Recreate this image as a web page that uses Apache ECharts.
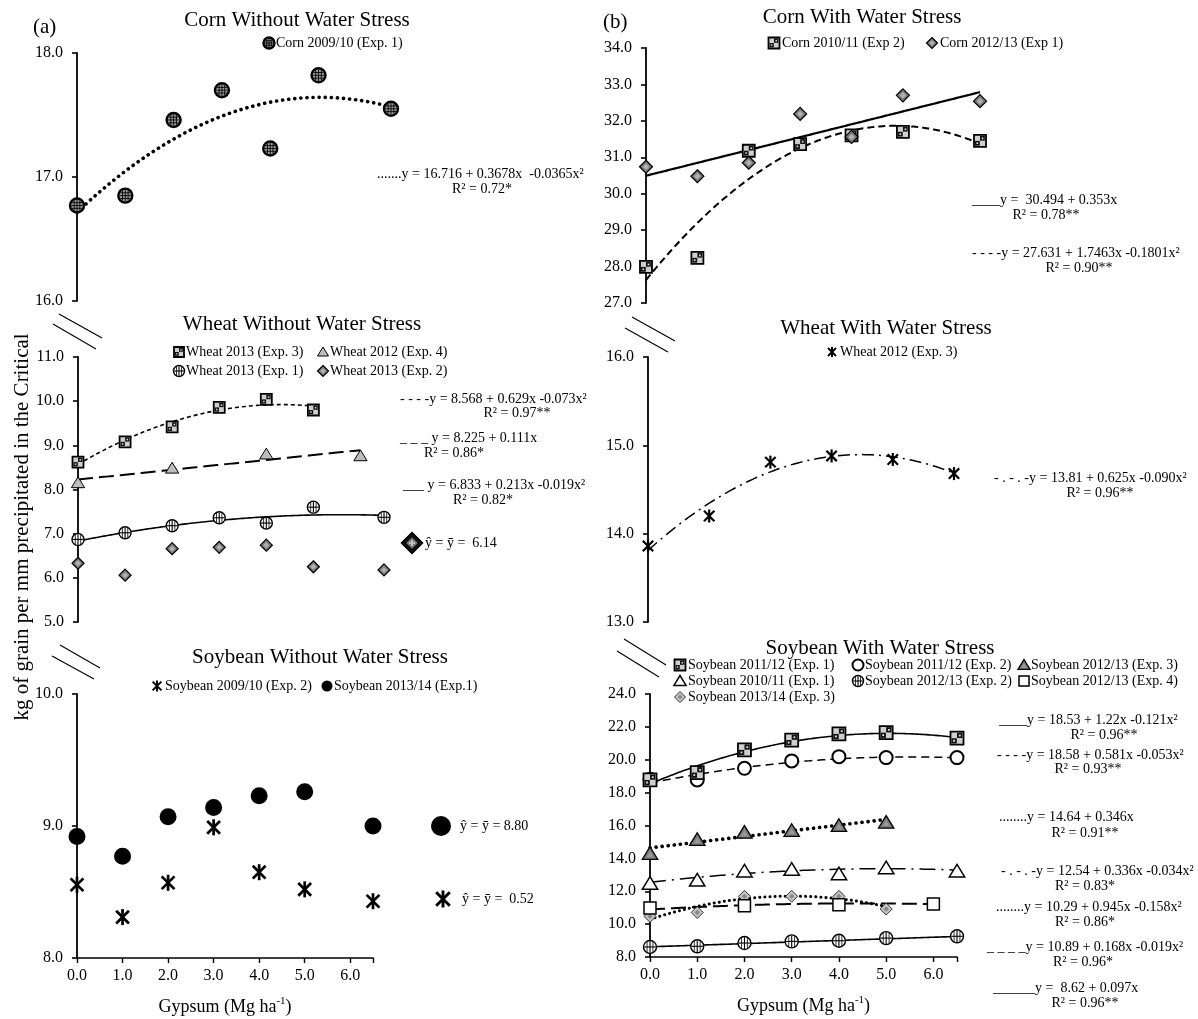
<!DOCTYPE html>
<html>
<head>
<meta charset="utf-8">
<script src="https://cdn.jsdelivr.net/npm/echarts@6/dist/echarts.min.js"></script>
<style>
  html, body { margin: 0; padding: 0; background: #fff; }
  #chart { width: 1198px; height: 1019px; }
</style>
</head>
<body>
<div id="chart"></div>
<script>
// ---- gypsum rates (Mg ha-1) ----
const rates7 = [0, 1, 2, 3, 4, 5, 6.5];
const rates6 = [0, 1, 2, 3, 4, 5];
const rates4 = [0, 2, 4, 6];

// ---- (a) corn without water stress ----
const corn0910 = [16.77, 16.85, 17.46, 17.70, 17.23, 17.82, 17.55];
const corn0910Fit = [16.716, 0.3678, -0.0365];

// ---- (a) wheat without water stress ----
const wheat13Exp3 = [8.62, 9.08, 9.42, 9.86, 10.04, 9.80];
const wheat13Exp3Fit = [8.568, 0.629, -0.073];
const wheat12Exp4 = [8.15, 8.48, 8.80, 8.76];
const wheat12Exp4Fit = [8.225, 0.111];
const wheat13Exp1 = [6.87, 7.02, 7.18, 7.36, 7.24, 7.60, 7.37];
const wheat13Exp1Fit = [6.833, 0.213, -0.019];
const wheat13Exp2 = [6.33, 6.06, 6.66, 6.69, 6.74, 6.25, 6.18];

// ---- (a) soybean without water stress ----
const soy0910Exp2 = [8.555, 8.31, 8.57, 8.99, 8.65, 8.52, 8.43];
const soy1314Exp1 = [8.92, 8.77, 9.07, 9.14, 9.23, 9.26, 9.00];

// ---- (b) corn with water stress ----
const corn1011Exp2 = [27.99, 28.24, 31.18, 31.36, 31.60, 31.70, 31.45];
const corn1011Exp2Fit = [27.631, 1.7463, -0.1801];
const corn1213Exp1 = [30.74, 30.48, 30.85, 32.19, 31.56, 32.70, 32.54];
const corn1213Exp1Fit = [30.494, 0.353];

// ---- (b) wheat with water stress ----
const wheat12Exp3 = [13.86, 14.20, 14.81, 14.88, 14.84, 14.68];
const wheat12Exp3Fit = [13.81, 0.625, -0.090];

// ---- (b) soybean with water stress ----
const soy1112Exp1 = [18.77, 19.22, 20.60, 21.20, 21.57, 21.65, 21.31];
const soy1112Exp1Fit = [18.53, 1.22, -0.121];
const soy1112Exp2 = [18.81, 18.77, 19.48, 19.93, 20.19, 20.13, 20.13];
const soy1112Exp2Fit = [18.58, 0.581, -0.053];
const soy1213Exp3 = [14.28, 15.13, 15.57, 15.68, 15.98, 16.18];
const soy1213Exp3Fit = [14.64, 0.346];
const soy1011Exp1 = [12.46, 12.66, 13.21, 13.31, 13.04, 13.41, 13.21];
const soy1011Exp1Fit = [12.54, 0.336, -0.034];
const soy1213Exp2 = [8.61, 8.65, 8.85, 8.95, 8.99, 9.15, 9.26];
const soy1213Exp2Fit = [8.62, 0.097];
const soy1213Exp4 = [10.98, 11.12, 11.18, 11.22];
const soy1213Exp4Fit = [10.89, 0.168, -0.019];
const soy1314Exp3 = [10.47, 10.71, 11.69, 11.69, 11.69, 10.92];
const soy1314Exp3Fit = [10.29, 0.945, -0.158];

// ---- axis ranges per panel [min, max, interval] ----
const yRanges = [[16, 18, 1], [5, 11, 1], [8, 10, 1], [27, 34, 1], [13, 16, 1], [8, 24, 2]];
const xMax = [6.5, 6.5, 6.5, 6.5, 5, 6.5];

const SERIF = '"Liberation Serif", "Times New Roman", serif';
const FONT = (px) => px + 'px "Liberation Serif"';

// ---- marker glyphs (shared by series and legend keys) ----
function glyph(kind, x, y, s) {
  const h = s / 2, K = '#000';
  const line = (x1, y1, x2, y2, w, c) => ({ type: 'line', shape: { x1, y1, x2, y2 }, style: { stroke: c || K, lineWidth: w || 1 } });
  const circ = (r, fill, w) => ({ type: 'circle', shape: { cx: x, cy: y, r }, style: { fill, stroke: K, lineWidth: w } });
  const grid = (r, offs, w) => offs.flatMap(d => {
    const L = Math.sqrt(Math.max(r * r - d * d, 0));
    return [line(x + d, y - L, x + d, y + L, w), line(x - L, y + d, x + L, y + d, w)];
  });
  const poly = (pts, fill, w, stroke) => ({ type: 'polygon', shape: { points: pts }, style: { fill, stroke: stroke || K, lineWidth: w } });
  const diamond = r => [[x, y - r], [x + r, y], [x, y + r], [x - r, y]];
  const tri = r => [[x, y - r], [x + r * 1.1, y + r * 0.8], [x - r * 1.1, y + r * 0.8]];
  const rect = (x0, y0, w0, h0, fill, lw) => ({ type: 'rect', shape: { x: x0, y: y0, width: w0, height: h0 }, style: { fill, stroke: lw ? K : null, lineWidth: lw || 0 } });
  switch (kind) {
    case 'gridDot':
      return [circ(h, '#a0a0a0', 2.4), ...grid(h - 1.3, [-h * 0.4, 0, h * 0.4], 0.9)];
    case 'crossDot':
      return [circ(h, '#ffffff', 1.4), ...grid(h - 0.7, [0], 1.1), line(x - h * 0.45, y - h * 0.85, x - h * 0.45, y + h * 0.85, 0.8), line(x + h * 0.45, y - h * 0.85, x + h * 0.45, y + h * 0.85, 0.8)];
    case 'checkSquare': {
      const q = h - 1.2;
      return [rect(x - h, y - h, s, s, '#cfcfcf', 1.8), rect(x, y - h + 1, q, q, '#111'), rect(x - h + 1, y, q, q, '#111'),
        rect(x + q * 0.35, y - h + 1 + q * 0.35, q * 0.35, q * 0.35, '#ddd'), rect(x - h + 1 + q * 0.3, y + q * 0.3, q * 0.35, q * 0.35, '#ddd')];
    }
    case 'gridDiamond':
      return [poly(diamond(h), '#7a7a7a', 1.2), poly(diamond(h * 0.5), '#b0b0b0', 0)];
    case 'bigDiamond':
      return [poly(diamond(h), '#111', 1.5), poly(diamond(h * 0.55), '#777', 0), ...[[-1, 0], [1, 0], [0, -1], [0, 1], [0, 0]].map(d => ({ type: 'circle', shape: { cx: x + d[0] * h * 0.2, cy: y + d[1] * h * 0.2, r: 1 }, style: { fill: '#ddd' } }))];
    case 'triGray':
      return [poly(tri(h), '#bdbdbd', 1)];
    case 'triFilled':
      return [poly(tri(h), '#7d7d7d', 1.3), poly(tri(h * 0.45).map(p => [p[0], p[1] + h * 0.15]), '#9a9a9a', 0)];
    case 'openTri':
      return [poly(tri(h), '#ffffff', 1.5)];
    case 'star': {
      const w = Math.max(2, s * 0.17), d = h * 0.8;
      return [line(x - d, y - d, x + d, y + d, w), line(x - d, y + d, x + d, y - d, w), line(x, y - h, x, y + h, w)];
    }
    case 'dot':
      return [circ(h, '#000', 0)];
    case 'openCircle':
      return [circ(h, '#ffffff', 2)];
    case 'openSquare':
      return [rect(x - h, y - h, s, s, '#ffffff', 1.5)];
    case 'smallDiamond':
      return [poly(diamond(h), '#c4c4c4', 1, '#333'), poly(diamond(h * 0.45), '#888', 0)];
  }
  return [];
}

function markerRender(kind, size) {
  return function (params, api) {
    const p = api.coord([api.value(0), api.value(1)]);
    return { type: 'group', children: glyph(kind, p[0], p[1], size) };
  };
}

function trend(coef, from, to) {
  const pts = [];
  const n = Math.round((to - from) / 0.05);
  for (let i = 0; i <= n; i++) {
    const x = from + (to - from) * i / n;
    pts.push([x, coef.reduce((acc, c, k) => acc + c * Math.pow(x, k), 0)]);
  }
  return pts;
}

const lineStyles = {
  dotHeavy: { type: [0.1, 6], width: 3.6, cap: 'round' },
  dotMed: { type: [0.1, 5], width: 3, cap: 'round' },
  shortDash: { type: [4, 3], width: 1.6 },
  longDash: { type: [15, 6], width: 2 },
  medDash: { type: [7, 4], width: 2 },
  dash: { type: [8, 5], width: 1.5 },
  solid: { type: 'solid', width: 1.6 },
  solidHeavy: { type: 'solid', width: 2.2 },
  dashDot: { type: [12, 5, 2, 5], width: 1.5 },
  dashDotLong: { type: [16, 6, 2, 6], width: 1.5 }
};

// panel, name, marker, size, x, y, fit, fit range, line style
const groups = [
  [0, 'Corn 2009/10 (Exp. 1)', 'gridDot', 14, rates7, corn0910, corn0910Fit, [0, 6.5], 'dotHeavy'],
  [1, 'Wheat 2013 (Exp. 3)', 'checkSquare', 11, rates6, wheat13Exp3, wheat13Exp3Fit, [0, 5], 'shortDash'],
  [1, 'Wheat 2012 (Exp. 4)', 'triGray', 12, rates4, wheat12Exp4, wheat12Exp4Fit, [0, 6], 'longDash'],
  [1, 'Wheat 2013 (Exp. 1)', 'crossDot', 12, rates7, wheat13Exp1, wheat13Exp1Fit, [0, 6.5], 'solid'],
  [1, 'Wheat 2013 (Exp. 2)', 'gridDiamond', 12, rates7, wheat13Exp2, null, null, null],
  [2, 'Soybean 2009/10 (Exp. 2)', 'star', 16, rates7, soy0910Exp2, null, null, null],
  [2, 'Soybean 2013/14 (Exp.1)', 'dot', 17, rates7, soy1314Exp1, null, null, null],
  [3, 'Corn 2010/11 (Exp 2)', 'checkSquare', 12, rates7, corn1011Exp2, corn1011Exp2Fit, [0, 6.5], 'medDash'],
  [3, 'Corn 2012/13 (Exp 1)', 'gridDiamond', 13, rates7, corn1213Exp1, corn1213Exp1Fit, [0, 6.5], 'solidHeavy'],
  [4, 'Wheat 2012 (Exp. 3)', 'star', 13, rates6, wheat12Exp3, wheat12Exp3Fit, [0, 5], 'dashDot'],
  [5, 'Soybean 2013/14 (Exp. 3)', 'smallDiamond', 12, rates6, soy1314Exp3, soy1314Exp3Fit, [0, 5], 'dotMed'],
  [5, 'Soybean 2012/13 (Exp. 4)', 'openSquare', 12, rates4, soy1213Exp4, soy1213Exp4Fit, [0, 6], 'longDash'],
  [5, 'Soybean 2012/13 (Exp. 2)', 'crossDot', 13, rates7, soy1213Exp2, soy1213Exp2Fit, [0, 6.5], 'solid'],
  [5, 'Soybean 2010/11 (Exp. 1)', 'openTri', 14, rates7, soy1011Exp1, soy1011Exp1Fit, [0, 6.5], 'dashDotLong'],
  [5, 'Soybean 2012/13 (Exp. 3)', 'triFilled', 14, rates6, soy1213Exp3, soy1213Exp3Fit, [0, 5], 'dotHeavy'],
  [5, 'Soybean 2011/12 (Exp. 2)', 'openCircle', 13, rates7, soy1112Exp2, soy1112Exp2Fit, [0, 6.5], 'dash'],
  [5, 'Soybean 2011/12 (Exp. 1)', 'checkSquare', 13, rates7, soy1112Exp1, soy1112Exp1Fit, [0, 6.5], 'solid']
];

const series = [];
groups.forEach(([p, name, kind, size, xs, ys, fit, range, ls]) => {
  if (fit) {
    series.push({
      type: 'line', name: name + ' fit', xAxisIndex: p, yAxisIndex: p,
      data: trend(fit, range[0], range[1]), showSymbol: false, symbol: 'none', silent: true, z: 2,
      lineStyle: Object.assign({ color: '#000' }, lineStyles[ls])
    });
  }
  series.push({
    type: 'custom', name, xAxisIndex: p, yAxisIndex: p, z: 3, clip: false,
    encode: { x: 0, y: 1 },
    data: xs.map((x, i) => [x, ys[i]]),
    renderItem: markerRender(kind, size)
  });
});

const grids = [
  { left: 77, top: 53, width: 314, height: 248 },
  { left: 78, top: 357, width: 306, height: 265 },
  { left: 77, top: 694, width: 296, height: 264 },
  { left: 646, top: 48, width: 334, height: 255 },
  { left: 648, top: 357, width: 306, height: 265 },
  { left: 650, top: 694, width: 307, height: 263 }
];

const xAxes = grids.map((g, i) => {
  const bottom = (i === 2 || i === 5);
  return {
    gridIndex: i, type: 'value', min: 0, max: xMax[i], interval: 1, show: bottom,
    axisLine: { show: true, lineStyle: { color: '#000', width: 1.6 } },
    axisTick: { show: true, length: 5, lineStyle: { color: '#000', width: 1.4 } },
    axisLabel: { color: '#000', fontFamily: SERIF, fontSize: 16, margin: 10, formatter: v => (v > 6.01 ? '' : v.toFixed(1)) },
    splitLine: { show: false },
    name: '{t|Gypsum (Mg ha}{s|-1}{t|)}', nameLocation: 'middle', nameGap: 38,
    nameTextStyle: { rich: { t: { fontFamily: SERIF, fontSize: 18, color: '#000', lineHeight: 22 }, s: { fontFamily: SERIF, fontSize: 11, color: '#000', verticalAlign: 'top', lineHeight: 22 } } }
  };
});

const yAxes = grids.map((g, i) => ({
  gridIndex: i, type: 'value', min: yRanges[i][0], max: yRanges[i][1], interval: yRanges[i][2],
  axisLine: { show: true, lineStyle: { color: '#000', width: 1.8 } },
  axisTick: { show: true, length: 5, lineStyle: { color: '#000', width: 1.6 } },
  axisLabel: { color: '#000', fontFamily: SERIF, fontSize: 16, margin: 14, formatter: v => v.toFixed(1) },
  splitLine: { show: false }
}));

// ---- annotations ----
function txt(str, x, y, size, align) {
  const a = align || 'left';
  return { type: 'text', x, y, silent: true, z: 10,
    style: { text: str, font: FONT(size), fill: '#000', textAlign: a, align: a, textVerticalAlign: 'middle', verticalAlign: 'middle' } };
}
function key(kind, ix, y, size, label, tx) {
  return { type: 'group', silent: true, z: 10, children: glyph(kind, ix, y, size).concat(label ? [txt(label, tx, y, 14)] : []) };
}
function brk(x1, y1, x2, y2) {
  return { type: 'line', silent: true, shape: { x1, y1, x2, y2 }, style: { stroke: '#000', lineWidth: 1.1 } };
}

const elements = [
  txt('(a)', 33, 27, 21), txt('(b)', 603, 22, 21),
  { type: 'text', x: 22, y: 527, rotation: Math.PI / 2, silent: true,
    style: { text: 'kg of grain per mm precipitated in the Critical', font: FONT(21), fill: '#000', textAlign: 'center', align: 'center', textVerticalAlign: 'middle', verticalAlign: 'middle' } },

  // panel titles
  txt('Corn Without Water Stress', 297, 20, 21, 'center'),
  txt('Wheat Without Water Stress', 302, 324, 21, 'center'),
  txt('Soybean Without Water Stress', 320, 657, 21, 'center'),
  txt('Corn With Water Stress', 862, 17, 21, 'center'),
  txt('Wheat With Water Stress', 886, 328, 21, 'center'),
  txt('Soybean With Water Stress', 880, 648, 21, 'center'),

  // legend keys
  key('gridDot', 269, 43, 11, 'Corn 2009/10 (Exp. 1)', 276),
  key('checkSquare', 179, 352, 10, 'Wheat 2013 (Exp. 3)', 186),
  key('triGray', 323, 352, 10, 'Wheat 2012 (Exp. 4)', 330),
  key('crossDot', 179, 371, 11, 'Wheat 2013 (Exp. 1)', 186),
  key('gridDiamond', 323, 371, 11, 'Wheat 2013 (Exp. 2)', 330),
  key('star', 157, 686, 11, 'Soybean 2009/10 (Exp. 2)', 165),
  key('dot', 327, 686, 11, 'Soybean 2013/14 (Exp.1)', 334),
  key('checkSquare', 774, 43, 11, 'Corn 2010/11 (Exp 2)', 782),
  key('gridDiamond', 932, 43, 11, 'Corn 2012/13 (Exp 1)', 940),
  key('star', 832, 352, 10, 'Wheat 2012 (Exp. 3)', 840),
  key('checkSquare', 680, 665, 11, 'Soybean 2011/12 (Exp. 1)', 688),
  key('openCircle', 858, 665, 11, 'Soybean 2011/12 (Exp. 2)', 865),
  key('triFilled', 1024, 665, 11, 'Soybean 2012/13 (Exp. 3)', 1031),
  key('openTri', 680, 681, 11, 'Soybean 2010/11 (Exp. 1)', 688),
  key('crossDot', 858, 681, 11, 'Soybean 2012/13 (Exp. 2)', 865),
  key('openSquare', 1024, 681, 10, 'Soybean 2012/13 (Exp. 4)', 1031),
  key('smallDiamond', 680, 697, 11, 'Soybean 2013/14 (Exp. 3)', 688),

  // fitted equations
  txt('.......y = 16.716 + 0.3678x  -0.0365x²', 377, 174, 14),
  txt('R² = 0.72*', 482, 189, 14, 'center'),
  txt('- - - -y = 8.568 + 0.629x -0.073x²', 400, 399, 14),
  txt('R² = 0.97**', 517, 413, 14, 'center'),
  txt('_ _ _ y = 8.225 + 0.111x', 400, 438, 14),
  txt('R² = 0.86*', 454, 453, 14, 'center'),
  txt('___ y = 6.833 + 0.213x -0.019x²', 403, 485, 14),
  txt('R² = 0.82*', 483, 500, 14, 'center'),
  key('bigDiamond', 412, 543, 21, 'ŷ = ȳ =  6.14', 425),
  key('dot', 441, 826, 20, 'ŷ = ȳ = 8.80', 460),
  key('star', 443, 899, 17, 'ŷ = ȳ =  0.52', 462),

  txt('____y =  30.494 + 0.353x', 972, 200, 14),
  txt('R² = 0.78**', 1046, 215, 14, 'center'),
  txt('- - - -y = 27.631 + 1.7463x -0.1801x²', 972, 253, 14),
  txt('R² = 0.90**', 1079, 268, 14, 'center'),
  txt('- . - . -y = 13.81 + 0.625x -0.090x²', 994, 478, 14),
  txt('R² = 0.96**', 1100, 493, 14, 'center'),

  txt('____y = 18.53 + 1.22x -0.121x²', 999, 720, 14),
  txt('R² = 0.96**', 1104, 735, 14, 'center'),
  txt('- - - -y = 18.58 + 0.581x -0.053x²', 997, 755, 14),
  txt('R² = 0.93**', 1088, 769, 14, 'center'),
  txt('........y = 14.64 + 0.346x', 999, 817, 14),
  txt('R² = 0.91**', 1085, 833, 14, 'center'),
  txt('- . - . -y = 12.54 + 0.336x -0.034x²', 1001, 871, 14),
  txt('R² = 0.83*', 1085, 886, 14, 'center'),
  txt('........y = 10.29 + 0.945x -0.158x²', 996, 907, 14),
  txt('R² = 0.86*', 1085, 922, 14, 'center'),
  txt('_ _ _ _y = 10.89 + 0.168x -0.019x²', 987, 947, 14),
  txt('R² = 0.96*', 1083, 962, 14, 'center'),
  txt('______y =  8.62 + 0.097x', 993, 988, 14),
  txt('R² = 0.96**', 1085, 1003, 14, 'center'),

  // axis break marks
  brk(59, 314, 102, 338), brk(53, 324, 96, 349),
  brk(60, 645, 100, 668), brk(52, 656, 94, 679),
  brk(632, 317, 675, 341), brk(625, 328, 668, 352),
  brk(624, 639, 666, 665), brk(617, 651, 659, 677)
];

const chart = echarts.init(document.getElementById('chart'), null, { renderer: 'canvas' });
chart.setOption({
  animation: false,
  backgroundColor: '#fff',
  textStyle: { fontFamily: SERIF },
  grid: grids,
  xAxis: xAxes,
  yAxis: yAxes,
  series,
  graphic: { elements }
});
</script>
</body>
</html>
